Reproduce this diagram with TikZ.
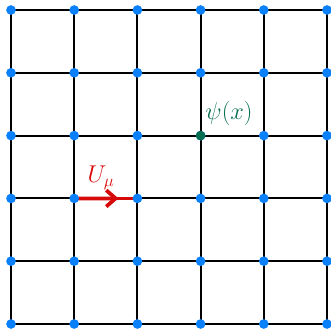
\documentclass[tikz,border=0pt]{standalone}
\usepackage{amsmath,amssymb}
\usepackage{tikz}
\usetikzlibrary{arrows.meta,calc,backgrounds}
\usepackage{xcolor}
\definecolor{siteBlue}{RGB}{10,128,250}
\definecolor{fieldGreen}{RGB}{5,110,80}
\definecolor{linkRed}{RGB}{215,10,10}

\begin{document}
\begin{tikzpicture}[x=0.03cm, y=-0.03cm,
        site/.style={circle, fill=siteBlue, inner sep=0pt, minimum size=0.29cm},
        field/.style={circle, fill=fieldGreen, inner sep=0pt, minimum size=0.29cm},
        bond/.style={draw=black, line width=1.8pt},
        link/.style={draw=linkRed, line width=3.2pt},
        lab/.style={font=\fontsize{21}{25}\selectfont, inner sep=0pt},
      ]
        \useasboundingbox (0,0) rectangle (331,329);

        % lattice sites
        \foreach \i in {0,...,5} {
          \foreach \j in {0,...,5} {
            \node[site] (s-\i-\j) at ({11+63.2*\i}, {10+62.8*\j}) {};
          }
        }
        \node[field] (psi) at (s-3-2) {};

        \begin{pgfonlayer}{background}
          \foreach \k in {0,...,5} {
            \draw[bond] (s-0-\k.center) -- (s-5-\k.center);
            \draw[bond] (s-\k-0.center) -- (s-\k-5.center);
          }
          % gauge link
          \draw[link] (s-1-3.center) -- (s-2-3.center);
          \draw[link, -{Straight Barb[length=8pt, width=14pt]}]
            (s-1-3.center) -- ($(s-1-3.center)!0.7!(s-2-3.center)$);
        \end{pgfonlayer}

        \node[lab, text=linkRed] (umu) at (101,178) {$U_\mu$};
        \node[lab, text=fieldGreen] (psilab) at (229,113) {$\psi(x)$};
      \end{tikzpicture}
\end{document}
